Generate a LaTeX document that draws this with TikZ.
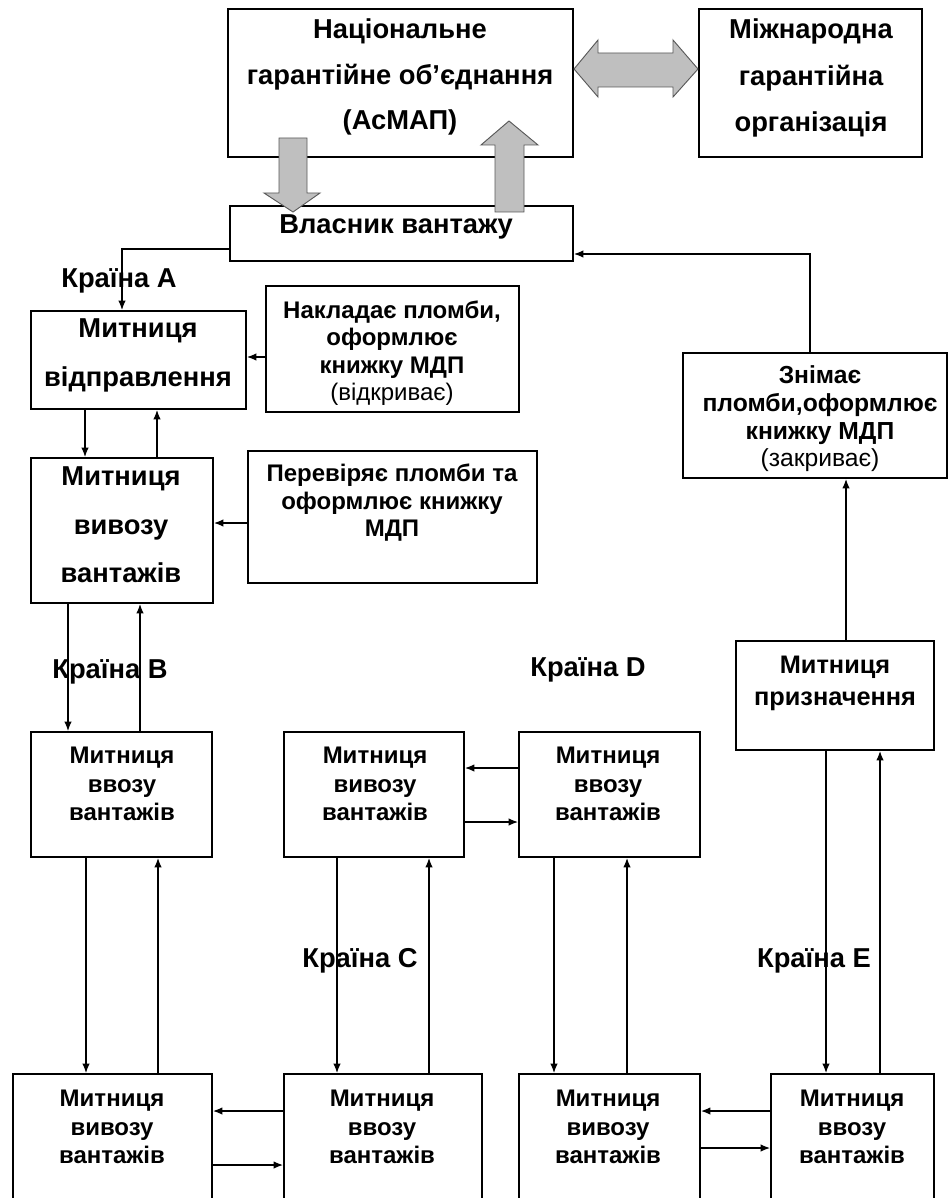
\documentclass[tikz,border=0pt]{standalone}
\usepackage{fontspec}
\setmainfont{Liberation Sans}
\usetikzlibrary{arrows.meta,fit,calc}
\tikzset{
  box/.style={draw=black, line width=1.4pt, inner sep=0pt, rectangle},
  arr/.style={line width=1pt, -{Latex[length=7pt,width=5.5pt]}},
  blk/.style={fill=black!25, draw=black!65, line width=0.7pt, line join=miter},
  tbig/.style={font=\bfseries\fontsize{20.5}{34}\selectfont, align=center, inner sep=0pt},
  tnote/.style={font=\bfseries\fontsize{18}{20.6}\selectfont, align=center, inner sep=0pt},
  tlow/.style={font=\bfseries\fontsize{18}{21.2}\selectfont, align=center, inner sep=0pt},
  lbl/.style={font=\bfseries\fontsize{20.5}{24}\selectfont, inner sep=0pt},
}
\newcommand{\rg}[1]{{\mdseries #1}}
\begin{document}
\begin{tikzpicture}[x=0.75pt,y=-0.75pt]
\useasboundingbox (0,0) rectangle (948,1198);
% ---------- boxes ----------
\node[box, fit={(228,9) (573,157)}] (nat) {};
\node[box, fit={(699,9) (922,157)}] (intl) {};
\node[box, fit={(230,206) (573,261)}] (own) {};
\node[box, fit={(31,311) (246,409)}] (mv) {};
\node[box, fit={(266,286) (519,412)}] (nak) {};
\node[box, fit={(31,458) (213,603)}] (mvv) {};
\node[box, fit={(248,451) (537,583)}] (per) {};
\node[box, fit={(683,353) (947,478)}] (zn) {};
\node[box, fit={(736,641) (934,750)}] (pryz) {};
\node[box, fit={(31,732) (212,857)}] (b1) {};
\node[box, fit={(284,732) (464,857)}] (c1) {};
\node[box, fit={(519,732) (700,857)}] (d1) {};
\node[box, fit={(13,1074) (212,1215)}] (e1) {};
\node[box, fit={(284,1074) (482,1215)}] (e2) {};
\node[box, fit={(519,1074) (700,1215)}] (e3) {};
\node[box, fit={(771,1074) (934,1215)}] (e4) {};
% ---------- helper coordinates ----------
\coordinate (yA) at (0,249);
\coordinate (xA) at (122,0);
\coordinate (yN) at (0,357);
\coordinate (yP) at (0,523);
\coordinate (yZ) at (0,254);
\coordinate (xZ) at (810,0);
\coordinate (x85) at (85,0);
\coordinate (x157) at (157,0);
\coordinate (x68) at (68,0);
\coordinate (x140) at (140,0);
\coordinate (x86) at (86,0);
\coordinate (x158) at (158,0);
\coordinate (x337) at (337,0);
\coordinate (x429) at (429,0);
\coordinate (x554) at (554,0);
\coordinate (x627) at (627,0);
\coordinate (x826) at (826,0);
\coordinate (x880) at (880,0);
\coordinate (x846) at (846,0);
\coordinate (y768) at (0,768);
\coordinate (y822) at (0,822);
\coordinate (y1111) at (0,1111);
\coordinate (y1165) at (0,1165);
\coordinate (y1148) at (0,1148);
% ---------- connectors ----------
\draw[arr] (own.west |- yA) -| (mv.north -| xA);
\draw[arr] (nak.west |- yN) -- (mv.east |- yN);
\draw[arr] (mv.south -| x85) -- (mvv.north -| x85);
\draw[arr] (mvv.north -| x157) -- (mv.south -| x157);
\draw[arr] (per.west |- yP) -- (mvv.east |- yP);
\draw[arr] (mvv.south -| x68) -- (b1.north -| x68);
\draw[arr] (b1.north -| x140) -- (mvv.south -| x140);
\draw[arr] (b1.south -| x86) -- (e1.north -| x86);
\draw[arr] (e1.north -| x158) -- (b1.south -| x158);
\draw[arr] (c1.south -| x337) -- (e2.north -| x337);
\draw[arr] (e2.north -| x429) -- (c1.south -| x429);
\draw[arr] (d1.west |- y768) -- (c1.east |- y768);
\draw[arr] (c1.east |- y822) -- (d1.west |- y822);
\draw[arr] (d1.south -| x554) -- (e3.north -| x554);
\draw[arr] (e3.north -| x627) -- (d1.south -| x627);
\draw[arr] (e2.west |- y1111) -- (e1.east |- y1111);
\draw[arr] (e1.east |- y1165) -- (e2.west |- y1165);
\draw[arr] (e4.west |- y1111) -- (e3.east |- y1111);
\draw[arr] (e3.east |- y1148) -- (e4.west |- y1148);
\draw[arr] (pryz.south -| x826) -- (e4.north -| x826);
\draw[arr] (e4.north -| x880) -- (pryz.south -| x880);
\draw[arr] (pryz.north -| x846) -- (zn.south -| x846);
\draw[arr] (zn.north -| xZ) |- (own.east |- yZ);
% ---------- grey block arrows ----------
\draw[blk] (279,138) -- (307,138) -- (307,193) -- (320,193) -- (293,212) -- (264,193) -- (279,193) -- cycle;
\draw[blk] (495,212) -- (524,212) -- (524,145) -- (538,145) -- (509,121) -- (481,145) -- (495,145) -- cycle;
\draw[blk] (574,69) -- (598,40) -- (598,53) -- (673,53) -- (673,40) -- (698,69) -- (673,97) -- (673,87) -- (598,87) -- (598,97) -- cycle;
% ---------- texts ----------
\node[tbig] (tnat) at (400,77) {Національне\\гарантійне об’єднання\\(АсМАП)};
\node[tbig, font=\bfseries\fontsize{20.5}{35}\selectfont] (tintl) at (811,78) {Міжнародна\\гарантійна\\організація};
\node[tbig] (town) at (396,227) {Власник вантажу};
\node[lbl] (la) at (119,281) {Країна А};
\node[tbig, font=\bfseries\fontsize{20.5}{36.7}\selectfont] (tmv) at (138,355) {Митниця\\відправлення};
\node[tnote] (tnak) at (392,353) {Накладає пломби,\\оформлює\\книжку МДП\\\rg{(відкриває)}};
\node[tbig, font=\bfseries\fontsize{20.5}{36.4}\selectfont] (tmvv) at (121,525) {Митниця\\вивозу\\вантажів};
\node[tnote] (tper) at (392,503) {Перевіряє пломби та\\оформлює книжку\\МДП};
\node[tnote, font=\bfseries\fontsize{18.5}{20.8}\selectfont] (tzn) at (820,419) {Знімає\\пломби,оформлює\\книжку МДП\\\rg{(закриває)}};
\node[lbl] (lb) at (110,672) {Країна В};
\node[lbl] (ld) at (588,670) {Країна D};
\node[tlow, font=\bfseries\fontsize{19}{24}\selectfont] (tpryz) at (835,683) {Митниця\\призначення};
\node[tlow] (tb1) at (122,784) {Митниця\\ввозу\\вантажів};
\node[tlow] (tc1) at (375,784) {Митниця\\вивозу\\вантажів};
\node[tlow] (td1) at (608,784) {Митниця\\ввозу\\вантажів};
\node[lbl] (lc) at (360,961) {Країна С};
\node[lbl] (le) at (814,961) {Країна Е};
\node[tlow] (te1) at (112,1127) {Митниця\\вивозу\\вантажів};
\node[tlow] (te2) at (382,1127) {Митниця\\ввозу\\вантажів};
\node[tlow] (te3) at (608,1127) {Митниця\\вивозу\\вантажів};
\node[tlow] (te4) at (852,1127) {Митниця\\ввозу\\вантажів};
\end{tikzpicture}
\end{document}
